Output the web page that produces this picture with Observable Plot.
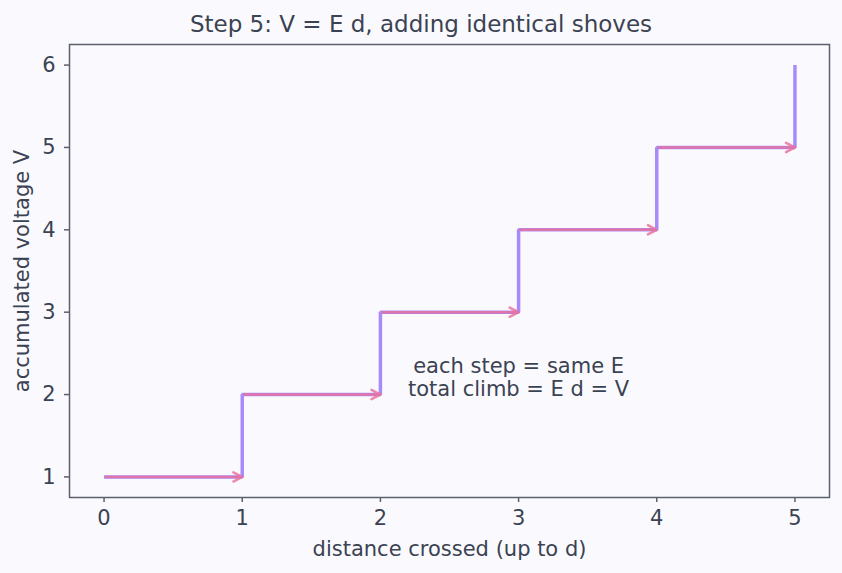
<!DOCTYPE html>
<html><head><meta charset="utf-8">
<script src="https://cdn.jsdelivr.net/npm/d3@7"></script>
<script src="https://cdn.jsdelivr.net/npm/@observablehq/plot@0.6"></script>
<style>
body{margin:0;background:#fafafe;font-family:"DejaVu Sans",sans-serif;}
#title{height:40px;line-height:48px;font-size:23px;color:#3b4252;text-align:center;box-sizing:border-box;width:842px;white-space:nowrap;}
</style></head>
<body>
<div id="title">Step 5: V = E d, adding identical shoves</div>
<div id="chart"></div>
<script>
const distances = [0, 1, 2, 3, 4, 5];
const voltages = [1, 2, 3, 4, 5, 6];
const xTicks = [0, 1, 2, 3, 4, 5];
const yTicks = [1, 2, 3, 4, 5, 6];
const noteLines = ["each step = same E\ntotal climb = E d = V"];
const notePos = {x: 3, y: 2.21};

const stepData = distances.map((d, i) => ({x: d, y: voltages[i]}));
const arrows = distances.slice(0, -1).map((d, i) => ({x1: d, x2: distances[i + 1], y: voltages[i]}));

const ink = "#3b4252";
const spine = "#5c606e";

const chart = Plot.plot({
  width: 842, height: 533,
  marginLeft: 69, marginRight: 13, marginTop: 4, marginBottom: 76,
  style: {background: "#fafafe", fontFamily: "DejaVu Sans, sans-serif", fontSize: "21px", color: ink},
  x: {domain: [-0.25, 5.25], label: null},
  y: {domain: [0.75, 6.25], label: null},
  marks: [
    Plot.frame({stroke: spine, strokeWidth: 1.5}),
    Plot.axisX({ticks: xTicks, tickFormat: d => String(d), tickSize: 5, tickPadding: 8, stroke: spine, strokeWidth: 1.5, color: ink, fontSize: 21, label: null}),
    Plot.axisY({ticks: yTicks, tickFormat: d => String(d), tickSize: 5, tickPadding: 9, stroke: spine, strokeWidth: 1.5, color: ink, fontSize: 21, label: null}),
    Plot.text(["distance crossed (up to d)"], {frameAnchor: "bottom", lineAnchor: "middle", textAnchor: "middle", dy: 52, fontSize: 21, fill: ink}),
    Plot.text(["accumulated voltage V"], {frameAnchor: "left", lineAnchor: "middle", textAnchor: "middle", dx: -47, rotate: -90, fontSize: 21, fill: ink}),
    Plot.line(stepData, {x: "x", y: "y", curve: "step-after", stroke: "#a78bfa", strokeWidth: 3.5, strokeLinecap: "butt", strokeLinejoin: "miter"}),
    Plot.arrow(arrows, {x1: "x1", x2: "x2", y1: "y", y2: "y", bend: 0, stroke: "#ec6f9a", strokeWidth: 2.5, strokeOpacity: 0.82, headLength: 6, headAngle: 55, insetStart: 2, insetEnd: 0}),
    Plot.text(noteLines, {x: () => notePos.x, y: () => notePos.y, fontSize: 21, fill: ink, lineHeight: 1.1})
  ]
});
document.getElementById("chart").appendChild(chart);
</script>
</body></html>
